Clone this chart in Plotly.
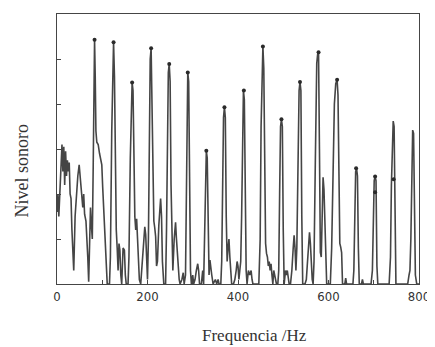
import plotly.graph_objects as go

# ---- data ----
freq_hz = [
    0, 2, 4, 6, 8, 11, 13, 15, 17, 19, 21, 23, 25, 27, 29, 31, 33, 37, 40, 43, 46, 49, 52, 54, 57, 59, 61, 64, 66, 68, 70, 72, 74, 76, 78,
    80, 81.5, 83, 84.5, 86, 88, 91, 94, 97, 99, 101, 104, 107, 109, 111,
    116, 118, 121, 123, 125, 127, 129, 131, 133, 135, 137, 139, 141, 143, 146, 149, 151, 153,
    157, 159, 162, 164, 166, 168, 170, 172, 174, 176, 178, 180, 182, 185, 188, 191, 194, 196, 198, 200,
    202, 204, 206, 208, 210, 212, 214, 216, 218, 220, 222, 225, 229, 231, 233, 236,
    240, 242, 244, 246, 248, 250, 252, 254, 256, 259, 262, 264, 267, 270, 272, 276, 279, 281, 284,
    285, 287, 289, 291, 293, 295, 297, 300, 302, 305, 308, 311, 313, 315, 319, 322, 324,
    326, 328, 330, 332, 334, 336, 338, 340, 342, 345, 350, 353, 356, 358,
    362, 364, 366, 368, 370, 372, 374, 376, 378, 380, 382, 384, 386, 390, 393, 396, 398, 400, 402, 404, 406,
    408, 410, 412, 414, 416, 418, 420, 423, 426, 429, 431, 433, 446,
    449, 451, 453, 455, 457, 459, 461, 463, 465, 467, 469, 471, 473, 475, 477, 479, 481, 483, 485, 488,
    490, 492, 494, 496, 498, 500, 502, 505, 507, 509, 511, 513, 516, 519, 522, 524, 526, 528,
    530, 533, 535, 537, 539, 541, 543, 548, 551, 553, 556, 558, 560, 562, 564, 566,
    568, 571, 574, 576, 578, 580, 582, 584, 586, 588, 590, 592, 594, 596, 600,
    604, 607, 610, 613, 616, 619, 621, 623, 625, 627, 629, 631, 636, 638, 640,
    650, 654, 656, 658, 660, 662, 664, 666, 668, 673, 675, 677,
    694, 697, 699, 701, 703, 705, 707, 709,
    734, 737, 739, 741, 743, 745, 747, 749, 751,
    775, 778, 780, 782, 784, 786, 788, 790, 792, 795, 800,
]

level = [
    1.6, 2.0, 1.5, 1.9, 2.3, 3.1, 2.5, 3.05, 2.2, 2.95, 2.4, 2.75, 2.5, 2.7, 2.0, 1.9, 1.2, 0.3, 1.5, 2.1, 2.4, 2.65, 2.2, 2.0, 1.7, 2.0, 1.55, 1.4, 1.1, 0.6, 0.05, 1.2, 1.7, 1.3, 1.0,
    2.6, 4.6, 5.43, 4.6, 3.4, 3.15, 3.1, 2.9, 2.75, 2.65, 2.15, 1.5, 0.9, 0.5, 0.0,
    0.0, 0.6, 3.4, 5.0, 5.37, 4.6, 2.6, 1.2, 0.8, 0.3, 0.9, 0.75, 0.2, 0.0, 0.8, 0.75, 0.2, 0.0,
    0.0, 0.6, 2.8, 4.2, 4.48, 4.3, 2.2, 1.5, 1.2, 1.45, 1.0, 0.5, 0.1, 0.0, 0.4, 1.0, 1.27, 1.1, 0.4, 0.1,
    1.0, 3.5, 5.0, 5.24, 4.0, 2.0, 1.4, 1.25, 1.05, 0.4, 0.5, 1.3, 1.9, 1.5, 0.5, 0.0,
    0.0, 1.2, 3.8, 4.7, 4.89, 4.5, 2.2, 0.8, 0.3, 1.0, 1.37, 1.0, 0.5, 0.1, 0.0, 0.1, 0.25, 0.0, 0.2,
    1.5, 4.2, 4.7, 4.5, 2.0, 0.3, 0.0, 0.2, 0.0, 0.1, 0.3, 0.45, 0.3, 0.0, 0.0, 0.3, 0.0,
    1.0, 2.6, 2.96, 2.8, 1.0, 0.2, 0.53, 0.3, 0.2, 0.0, 0.1, 0.0, 0.1, 0.0,
    0.0, 0.5, 2.5, 3.7, 3.93, 3.7, 1.5, 0.5, 0.8, 1.0, 0.6, 0.3, 0.0, 0.0, 0.1, 0.3, 0.5, 0.4, 0.1, 0.3, 0.5,
    1.5, 3.8, 4.3, 4.1, 1.5, 0.3, 0.0, 0.3, 0.2, 0.3, 0.1, 0.0, 0.0,
    1.0, 3.5, 5.0, 5.28, 4.8, 2.0, 0.9, 0.68, 0.6, 0.4, 0.5, 0.3, 0.45, 0.2, 0.0, 0.3, 0.2, 0.1, 0.0, 0.0,
    0.3, 2.0, 3.5, 3.66, 3.5, 1.2, 0.0, 0.3, 0.2, 0.3, 0.1, 0.0, 0.0, 0.3, 0.8, 1.08, 0.8, 0.3,
    0.8, 3.2, 4.3, 4.49, 4.3, 1.5, 0.0, 0.0, 0.1, 0.4, 0.9, 1.15, 0.9, 0.4, 0.1, 0.0,
    0.5, 2.8, 4.9, 5.1, 5.15, 3.0, 0.7, 0.6, 1.8, 2.37, 2.1, 1.2, 0.6, 0.0, 0.0,
    0.0, 0.8, 2.5, 4.0, 4.45, 4.54, 4.2, 2.0, 0.9, 0.82, 0.7, 0.0, 0.0, 0.13, 0.0,
    0.0, 0.0, 0.3, 1.5, 2.5, 2.57, 2.4, 0.8, 0.0, 0.0, 0.1, 0.0,
    0.0, 0.3, 1.5, 2.3, 2.39, 2.3, 0.4, 0.0,
    0.0, 0.6, 2.2, 3.4, 3.62, 3.5, 1.2, 0.0, 0.0,
    0.0, 0.2, 0.3, 1.0, 2.8, 3.42, 3.35, 1.5, 0.2, 0.0, 0.0,
]

peak_hz = [83, 125, 166, 208, 248, 289, 330, 370, 413, 455, 496, 537, 578, 619, 661, 703, 703, 744]
peak_level = [5.43, 5.37, 4.48, 5.24, 4.89, 4.70, 2.96, 3.93, 4.30, 5.28, 3.66, 4.49, 5.15, 4.54, 2.57, 2.39, 2.04, 2.33]

x_tick_vals = [0, 100, 200, 300, 400, 500, 600, 700, 800]
x_tick_text = ["0", "", "200", "", "400", "", "600", "", "800"]
y_tick_vals = [0, 1, 2, 3, 4, 5, 6]

x_title = "Frequencia /Hz"
y_title = "Nivel sonoro"

ink = "#454545"

fig = go.Figure()
fig.add_trace(go.Scatter(
    x=freq_hz, y=level, mode="lines",
    line=dict(color=ink, width=1.6),
    hoverinfo="skip", showlegend=False,
))
fig.add_trace(go.Scatter(
    x=peak_hz, y=peak_level, mode="markers",
    marker=dict(color="#2a2a2a", size=4, symbol="circle"),
    hoverinfo="skip", showlegend=False,
))

# the page body adds an 8px offset; the figure is sized to fill the rest of the window
fig.update_layout(
    width=427, height=339,
    margin=dict(l=49, r=12, t=5, b=63),
    paper_bgcolor="white", plot_bgcolor="white",
    showlegend=False,
    xaxis=dict(
        range=[0, 800], tickvals=x_tick_vals, ticktext=x_tick_text,
        showgrid=False, zeroline=False,
        showline=True, linecolor=ink, linewidth=1, mirror=True,
        ticks="inside", ticklen=4, tickcolor=ink,
        tickfont=dict(family="Liberation Sans Narrow, DejaVu Sans Condensed, Liberation Sans, sans-serif", size=13, color="#333"),
    ),
    yaxis=dict(
        range=[0, 6], tickvals=y_tick_vals, showticklabels=False,
        showgrid=False, zeroline=False,
        showline=True, linecolor=ink, linewidth=1, mirror=True,
        ticks="inside", ticklen=4, tickcolor=ink,
    ),
    annotations=[
        dict(text=x_title, xref="paper", yref="paper", x=0.546, y=0,
             yshift=-51, xanchor="center", yanchor="middle", showarrow=False,
             font=dict(family="Liberation Serif, serif", size=17, color="#333")),
        dict(text=y_title, xref="paper", yref="paper", x=0, y=0.42,
             xshift=-35, xanchor="center", yanchor="middle", textangle=-90, showarrow=False,
             font=dict(family="Liberation Serif, serif", size=18, color="#333")),
    ],
)

fig.write_html("out.html")
